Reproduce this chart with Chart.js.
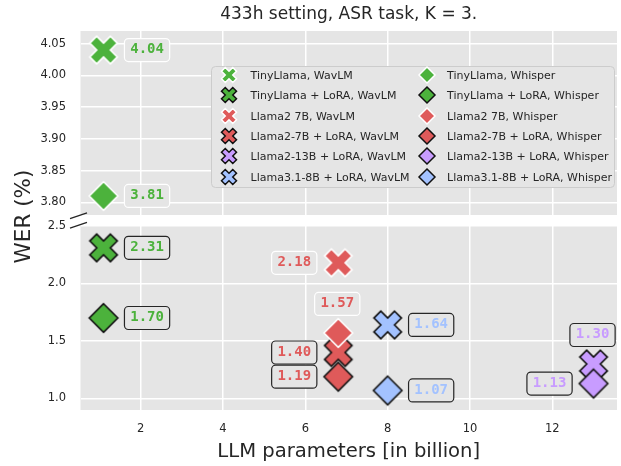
<!DOCTYPE html>
<html><head><meta charset="utf-8">
<script src="https://cdn.jsdelivr.net/npm/chart.js@4.4.1/dist/chart.umd.min.js"></script>
<style>
html,body{margin:0;padding:0;background:#fff;}
#wrap{position:relative;width:621px;height:466px;}
canvas{position:absolute;left:0;top:0;}
</style></head><body>
<div id="wrap"><canvas id="topChart" width="621" height="466"></canvas><canvas id="botChart" width="621" height="466"></canvas></div>
<script>
// ---- data ----
const seriesNames = [
  "TinyLlama, WavLM", "TinyLlama + LoRA, WavLM", "Llama2 7B, WavLM",
  "Llama2-7B + LoRA, WavLM", "Llama2-13B + LoRA, WavLM", "Llama3.1-8B + LoRA, WavLM",
  "TinyLlama, Whisper", "TinyLlama + LoRA, Whisper", "Llama2 7B, Whisper",
  "Llama2-7B + LoRA, Whisper", "Llama2-13B + LoRA, Whisper", "Llama3.1-8B + LoRA, Whisper"
];
const llmParams = [1.1, 1.1, 6.8, 6.8, 13, 8, 1.1, 1.1, 6.8, 6.8, 13, 8];
const werValues = [4.04, 2.31, 2.18, 1.40, 1.30, 1.64, 3.81, 1.70, 1.57, 1.19, 1.13, 1.07];
const xTickValues = [2, 4, 6, 8, 10, 12];
const topTickValues = [3.80, 3.85, 3.90, 3.95, 4.00, 4.05];
const bottomTickValues = [1.0, 1.5, 2.0, 2.5];
const titleText = "433h setting, ASR task, K = 3.";
const xTitle = "LLM parameters [in billion]";
const yTitle = "WER (%)";

// ---- styles ----
const FONT = "'DejaVu Sans', 'Liberation Sans', sans-serif";
const MONO = "'DejaVu Sans Mono', monospace";
const TEXT_COLOR = '#262626';
const PANEL_BG = '#e5e5e5';
const COLORS = {tiny:'#4cb23c', l27:'#df5a5a', l213:'#c89cff', l31:'#a3c2ff'};
const seriesStyle = [
  {c:'tiny', lora:false, m:'X', side:'right'},
  {c:'tiny', lora:true,  m:'X', side:'right'},
  {c:'l27',  lora:false, m:'X', side:'left'},
  {c:'l27',  lora:true,  m:'X', side:'left'},
  {c:'l213', lora:true,  m:'X', side:'above'},
  {c:'l31',  lora:true,  m:'X', side:'right'},
  {c:'tiny', lora:false, m:'D', side:'right'},
  {c:'tiny', lora:true,  m:'D', side:'right'},
  {c:'l27',  lora:false, m:'D', side:'above'},
  {c:'l27',  lora:true,  m:'D', side:'left'},
  {c:'l213', lora:true,  m:'D', side:'left'},
  {c:'l31',  lora:true,  m:'D', side:'right'}
];
const XMIN = 0.54, XMAX = 13.57;

function makeMarker(type, size, fill, edge, lw) {
  const pad = Math.ceil(lw) + 3;
  let dim = Math.ceil(size + 2 * pad); if (dim % 2) dim++;
  const c = document.createElement('canvas');
  c.width = dim; c.height = dim;
  const ctx = c.getContext('2d');
  ctx.translate(dim / 2, dim / 2);
  ctx.beginPath();
  if (type === 'X') {
    const S = size / 0.9428;
    const pts = [[-1,-3],[1,-3],[1,-1],[3,-1],[3,1],[1,1],[1,3],[-1,3],[-1,1],[-3,1],[-3,-1],[-1,-1]];
    const a = Math.PI / 4, ca = Math.cos(a), sa = Math.sin(a);
    pts.forEach((p, i) => {
      const x = p[0] / 6 * S, y = p[1] / 6 * S;
      const rx = x * ca - y * sa, ry = x * sa + y * ca;
      if (i) ctx.lineTo(rx, ry); else ctx.moveTo(rx, ry);
    });
  } else {
    const h = size / 2;
    ctx.moveTo(0, -h); ctx.lineTo(h, 0); ctx.lineTo(0, h); ctx.lineTo(-h, 0);
  }
  ctx.closePath();
  ctx.fillStyle = fill; ctx.fill();
  ctx.lineJoin = 'miter'; ctx.lineWidth = lw; ctx.strokeStyle = edge; ctx.stroke();
  return c;
}
const plotMarkers = seriesStyle.map(st => makeMarker(st.m, st.m === 'X' ? 27.5 : 28.5, COLORS[st.c], st.lora ? '#111111' : '#ffffff', 1.6));
const legendMarkers = seriesStyle.map(st => makeMarker(st.m, st.m === 'X' ? 15 : 16, COLORS[st.c], st.lora ? '#111111' : '#ffffff', 1.5));

function buildDatasets() {
  return seriesNames.map((name, i) => ({
    label: name,
    data: [{x: llmParams[i], y: werValues[i]}],
    pointStyle: plotMarkers[i],
    pointRadius: 15, pointHoverRadius: 15,
    order: seriesStyle[i].m === 'X' ? 1 : 0,
    clip: 0
  }));
}

function roundRect(ctx, x, y, w, h, r) {
  ctx.beginPath();
  ctx.moveTo(x + r, y); ctx.lineTo(x + w - r, y); ctx.arcTo(x + w, y, x + w, y + r, r);
  ctx.lineTo(x + w, y + h - r); ctx.arcTo(x + w, y + h, x + w - r, y + h, r);
  ctx.lineTo(x + r, y + h); ctx.arcTo(x, y + h, x, y + h - r, r);
  ctx.lineTo(x, y + r); ctx.arcTo(x, y, x + r, y, r); ctx.closePath();
}

const bgPlugin = { id: 'panelBg', beforeDraw(chart) {
  const a = chart.chartArea, ctx = chart.ctx;
  ctx.save(); ctx.fillStyle = PANEL_BG; ctx.fillRect(a.left, a.top, a.right - a.left, a.bottom - a.top); ctx.restore();
}};

const valueLabelPlugin = { id: 'valueLabels', afterDatasetsDraw(chart) {
  const ctx = chart.ctx, ys = chart.scales.y, xs = chart.scales.x;
  ctx.save();
  ctx.font = "bold 14px " + MONO;
  chart.data.datasets.forEach((ds, i) => {
    const st = seriesStyle[i];
    const v = ds.data[0];
    if (v.y < ys.min || v.y > ys.max) return;
    const px = xs.getPixelForValue(v.x), py = ys.getPixelForValue(v.y);
    const txt = v.y.toFixed(2);
    const tw = ctx.measureText(txt).width;
    const bw = tw + 11.5, bh = 23;
    let cx = px, cy = py;
    if (st.side === 'right') cx = px + 43.5;
    else if (st.side === 'left') cx = px - 44;
    else { cx = px - 1; cy = py - 29; }
    roundRect(ctx, cx - bw / 2, cy - bh / 2, bw, bh, 4);
    ctx.fillStyle = PANEL_BG; ctx.fill();
    ctx.lineWidth = 1.2; ctx.strokeStyle = st.lora ? TEXT_COLOR : '#ffffff'; ctx.stroke();
    ctx.fillStyle = COLORS[st.c]; ctx.textAlign = 'center'; ctx.textBaseline = 'alphabetic';
    ctx.fillText(txt, cx, cy + 3.1);
  });
  ctx.restore();
}};

const legendPlugin = { id: 'twoColLegend', afterDraw(chart) {
  const ctx = chart.ctx, a = chart.chartArea;
  const w = 403, h = 121;
  const x0 = a.right - 2.5 - w, y0 = a.top + 35.5;
  ctx.save();
  roundRect(ctx, x0, y0, w, h, 4);
  ctx.fillStyle = PANEL_BG; ctx.fill();
  ctx.lineWidth = 1; ctx.strokeStyle = '#cccccc'; ctx.stroke();
  ctx.font = "11px " + FONT;
  ctx.fillStyle = TEXT_COLOR; ctx.textAlign = 'left'; ctx.textBaseline = 'middle';
  seriesNames.forEach((name, i) => {
    const col = i < 6 ? 0 : 1, row = i % 6;
    const cy = y0 + 8.5 + row * 20.33;
    const mx = x0 + (col ? 215 : 17.6), tx = x0 + (col ? 235.6 : 39);
    const m = legendMarkers[i];
    ctx.drawImage(m, Math.round(mx - m.width / 2), Math.round(cy - m.height / 2));
    ctx.fillText(name, tx, cy + 1.3);
  });
  ctx.restore();
}};

function breakPlugin(edge) {
  return { id: 'breakMark' + edge, afterDraw(chart) {
    const ctx = chart.ctx, a = chart.chartArea;
    const cx = a.left - 2, cy = edge === 'bottom' ? a.bottom + 0.8 : a.top - 0.8;
    ctx.save(); ctx.strokeStyle = TEXT_COLOR; ctx.lineWidth = 1.3;
    ctx.beginPath(); ctx.moveTo(cx - 8.5, cy + 2.9); ctx.lineTo(cx + 8.5, cy - 2.9); ctx.stroke();
    ctx.restore();
  }};
}

const yTitlePlugin = { id: 'yTitle', afterDraw(chart) {
  const ctx = chart.ctx;
  ctx.save();
  ctx.translate(24.4, 216.5); ctx.rotate(-Math.PI / 2);
  ctx.font = "21.5px " + FONT; ctx.fillStyle = TEXT_COLOR; ctx.textAlign = 'center'; ctx.textBaseline = 'middle';
  ctx.fillText(yTitle, 0, 0);
  ctx.restore();
}};

Chart.defaults.font.family = FONT;
Chart.defaults.color = TEXT_COLOR;

const gridOpts = {color: '#ffffff', lineWidth: 1.5, drawTicks: false};
const tickFont = {family: FONT, size: 11.5};

new Chart(document.getElementById('topChart'), {
  type: 'scatter',
  data: {datasets: buildDatasets()},
  options: {
    responsive: false, animation: false, devicePixelRatio: 1, events: [],
    layout: {autoPadding: false, padding: {left: 0, right: 4, top: 0, bottom: 251}},
    plugins: {
      legend: {display: false}, tooltip: {enabled: false},
      title: {display: true, text: titleText, fullSize: false, color: TEXT_COLOR,
        font: {family: FONT, size: 17, weight: 'normal'}, padding: {top: 4, bottom: 6.6}}
    },
    scales: {
      x: {type: 'linear', min: XMIN, max: XMAX,
        afterBuildTicks: s => { s.ticks = xTickValues.map(v => ({value: v})); },
        ticks: {display: false}, grid: gridOpts, border: {display: false},
        afterFit: s => { s.height = 0; }},
      y: {type: 'linear', min: 3.78, max: 4.07,
        afterBuildTicks: s => { s.ticks = topTickValues.map(v => ({value: v})); },
        ticks: {font: tickFont, color: TEXT_COLOR, padding: 14.5, callback: v => Number(v).toFixed(2)},
        grid: gridOpts, border: {display: false},
        afterFit: s => { s.width = 80.5; }}
    }
  },
  plugins: [bgPlugin, valueLabelPlugin, legendPlugin, breakPlugin('bottom')]
});

new Chart(document.getElementById('botChart'), {
  type: 'scatter',
  data: {datasets: buildDatasets()},
  options: {
    responsive: false, animation: false, devicePixelRatio: 1, events: [],
    layout: {autoPadding: false, padding: {left: 0, right: 4, top: 226, bottom: 0}},
    plugins: {legend: {display: false}, tooltip: {enabled: false}},
    scales: {
      x: {type: 'linear', min: XMIN, max: XMAX,
        afterBuildTicks: s => { s.ticks = xTickValues.map(v => ({value: v})); },
        ticks: {font: tickFont, color: TEXT_COLOR, padding: 12, callback: v => String(v)},
        grid: gridOpts, border: {display: false},
        title: {display: true, text: xTitle, color: TEXT_COLOR, font: {family: FONT, size: 19.6}, padding: {top: 0, bottom: 2.7}},
        afterFit: s => { s.height = 56; }},
      y: {type: 'linear', min: 0.9, max: 2.5,
        afterBuildTicks: s => { s.ticks = bottomTickValues.map(v => ({value: v})); },
        ticks: {font: tickFont, color: TEXT_COLOR, padding: 14.5, callback: v => Number(v).toFixed(1)},
        grid: gridOpts, border: {display: false},
        afterFit: s => { s.width = 80.5; }}
    }
  },
  plugins: [bgPlugin, valueLabelPlugin, breakPlugin('top'), yTitlePlugin]
});
</script>
</body></html>
